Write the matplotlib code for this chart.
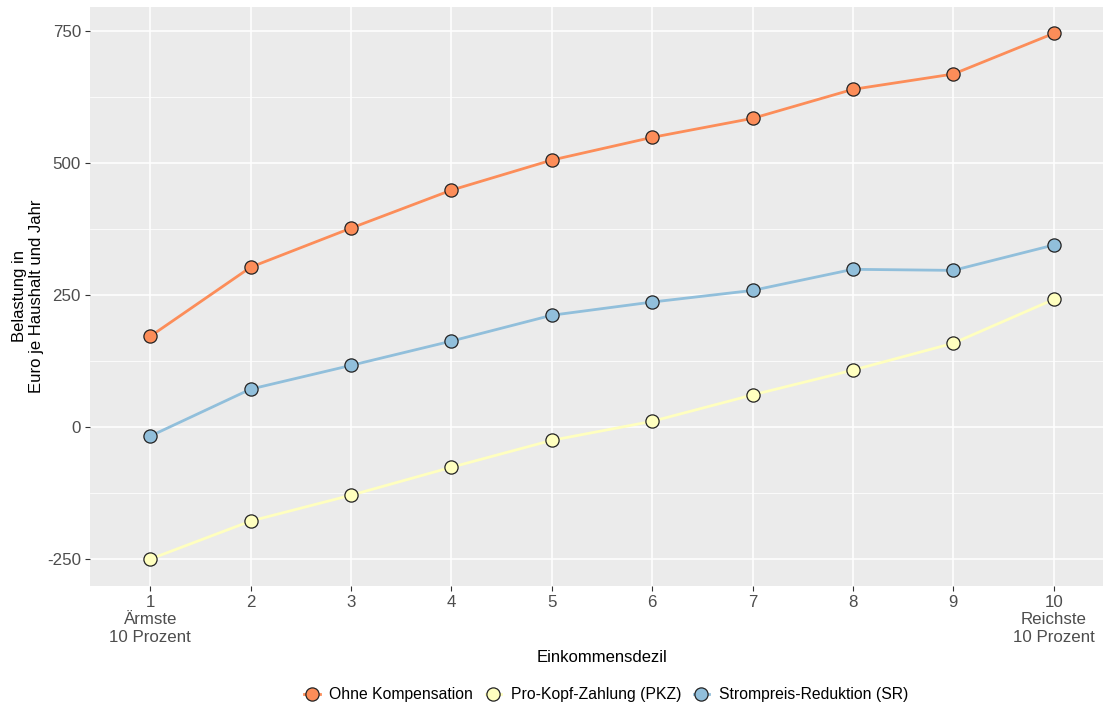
import matplotlib
matplotlib.use('Agg')
import matplotlib.pyplot as plt
from matplotlib.ticker import MultipleLocator

plt.rcParams['font.family'] = ['Liberation Sans', 'DejaVu Sans']
plt.rcParams['axes.unicode_minus'] = False

dezile = [1, 2, 3, 4, 5, 6, 7, 8, 9, 10]
x_labels = ['1\nÄrmste\n10 Prozent', '2', '3', '4', '5', '6', '7', '8', '9',
            '10\nReichste\n10 Prozent']

ohne_kompensation = [172, 303, 377, 449, 506, 549, 585, 640, 669, 746]
pro_kopf = [-250, -178, -129, -76, -25, 11, 61, 108, 159, 242]
strompreis = [-17, 72, 117, 163, 212, 237, 259, 299, 297, 345]

series = [
    ('Ohne Kompensation', ohne_kompensation, '#FC8D59'),
    ('Pro-Kopf-Zahlung (PKZ)', pro_kopf, '#FFFFBF'),
    ('Strompreis-Reduktion (SR)', strompreis, '#91BFDB'),
]

fig = plt.figure(figsize=(11.03, 7.07), dpi=100)
# panel runs off the right edge in the original
ax = fig.add_axes([90 / 1103, 1 - 586 / 707, 1024 / 1103, 579 / 707])
ax.set_facecolor('#EBEBEB')
for s in ax.spines.values():
    s.set_visible(False)

ax.yaxis.set_major_locator(MultipleLocator(250))
ax.yaxis.set_minor_locator(MultipleLocator(125))
ax.grid(which='major', color='white', linewidth=1.1)
ax.grid(which='minor', axis='y', color='white', linewidth=0.55)
ax.set_axisbelow(True)

for name, vals, col in series:
    ax.plot(dezile, vals, color=col, linewidth=2.0, marker='o', markersize=9.5,
            markerfacecolor=col, markeredgecolor='#222222', markeredgewidth=0.9,
            label=name, zorder=3)

ax.set_xlim(0.4, 10.6)
ax.set_ylim(-301, 796)
ax.set_xticks(dezile)
ax.set_xticklabels(x_labels)
ax.tick_params(which='major', length=3.5, color='#333333', labelsize=12.2,
               labelcolor='#4D4D4D', pad=3)
ax.tick_params(which='minor', length=0)

ax.set_xlabel('Einkommensdezil', fontsize=12, labelpad=4)
ax.set_ylabel('Belastung in\nEuro je Haushalt und Jahr', fontsize=12, labelpad=2)

leg = fig.legend(loc='center', bbox_to_anchor=(606 / 1103, 1 - 695 / 707), ncol=3,
                 frameon=False, fontsize=11.3, handlelength=1.0, handletextpad=0.6,
                 columnspacing=0.8)

fig.savefig('out.png', dpi=100)
